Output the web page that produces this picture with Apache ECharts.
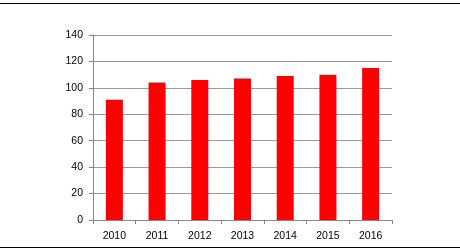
<!DOCTYPE html>
<html>
<head>
<meta charset="utf-8">
<script src="https://cdn.jsdelivr.net/npm/echarts@6/dist/echarts.min.js"></script>
<style>
html,body{margin:0;padding:0;background:#fff;}
#c{width:460px;height:251px;}
</style>
</head>
<body>
<div id="c"></div>
<script>
const categories = ['2010','2011','2012','2013','2014','2015','2016'];
const values = [91, 104, 106, 107, 109, 110, 115];
const yTicks = [0, 20, 40, 60, 80, 100, 120, 140];

const chart = echarts.init(document.getElementById('c'), null, {renderer: 'canvas'});
const font = 'Liberation Sans';
chart.setOption({
  animation: false,
  backgroundColor: '#ffffff',
  grid: {left: 93, right: 68, top: 35, bottom: 31, containLabel: false},
  graphic: [
    {type: 'line', shape: {x1: 0, y1: 3.5, x2: 460, y2: 3.5}, style: {stroke: '#000', lineWidth: 1}},
    {type: 'line', shape: {x1: 0, y1: 247.5, x2: 460, y2: 247.5}, style: {stroke: '#000', lineWidth: 1}}
  ],
  xAxis: {
    type: 'category',
    data: categories,
    boundaryGap: true,
    axisLine: {show: true, lineStyle: {color: '#868686', width: 1}},
    axisTick: {show: true, length: 4, alignWithLabel: false, lineStyle: {color: '#868686'}},
    axisLabel: {color: '#000', fontFamily: font, fontSize: 10.5, margin: 11}
  },
  yAxis: {
    type: 'value',
    min: yTicks[0],
    max: yTicks[yTicks.length - 1],
    interval: 20,
    axisLine: {show: true, lineStyle: {color: '#868686', width: 1}},
    axisTick: {show: true, length: 4, lineStyle: {color: '#868686'}},
    axisLabel: {color: '#000', fontFamily: font, fontSize: 10.5, margin: 10},
    splitLine: {show: true, lineStyle: {color: '#9a9a9a', width: 1}}
  },
  series: [{
    type: 'bar',
    data: values,
    barWidth: 17,
    itemStyle: {color: '#ff0000'}
  }]
});
</script>
</body>
</html>
